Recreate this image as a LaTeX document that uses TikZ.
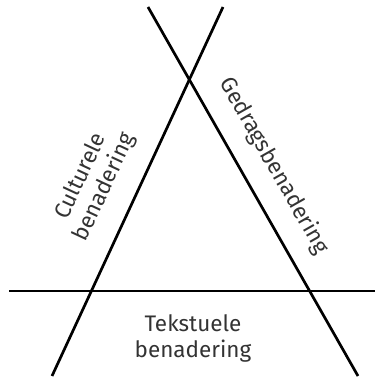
\documentclass[tikz,border=0pt]{standalone}
\usepackage{fontspec}
\setmainfont{Fira Sans}
\usepackage{tikz}
\usetikzlibrary{positioning}
\usetikzlibrary{calc}

\begin{document}
\begin{tikzpicture}[x=1pt, y=1pt,
    axis/.style={line width=2.7pt, black},
    label/.style={text=black!80, font=\fontsize{22.5}{26}\selectfont, align=center, inner sep=0pt}]

  \useasboundingbox (0,0) rectangle (375,377);

  % the three approaches
  \coordinate (cul-s) at (52,1);
  \coordinate (cul-e) at (223,370);
  \coordinate (ged-s) at (148,370);
  \coordinate (ged-e) at (358,1);
  \coordinate (tek-s) at (9,86);
  \coordinate (tek-e) at (375,86);

  \draw[axis] (cul-s) -- (cul-e);
  \draw[axis] (ged-s) -- (ged-e);
  \draw[axis] (tek-s) -- (tek-e);

  \node[label, rotate=65] (cul) at (93,195) {Culturele\\benadering};
  \node[label, rotate=-60.4] (ged) at (274,211) {Gedragsbenadering};
  \node[label] (tek) at (193,39) {Tekstuele\\benadering};

\end{tikzpicture}
\end{document}
